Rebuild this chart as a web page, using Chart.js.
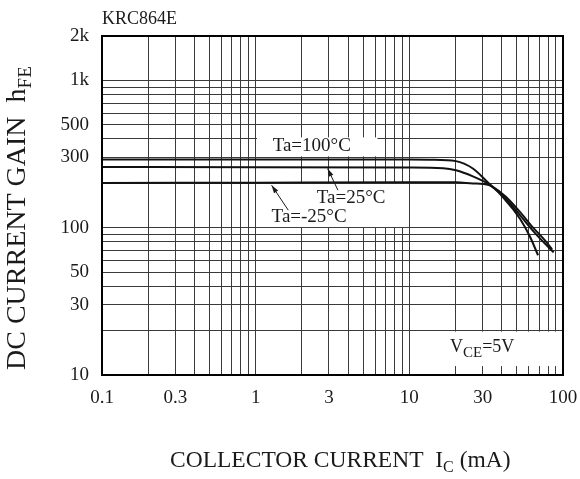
<!DOCTYPE html>
<html lang="en">
<head>
    <meta charset="UTF-8">
    <title>KRC864E hFE - IC</title>
    <script src="https://cdn.jsdelivr.net/npm/chart.js"></script>
    <style>
        body { margin: 0; background: #fff; }
        #wrap { width: 580px; height: 479px; }
    </style>
</head>
<body>
    <div id="wrap"><canvas id="hfeChart"></canvas></div>

    <script>
        // tick labels
        const xLabels = [0.1, 0.3, 1, 3, 10, 30, 100];
        const yLabels = [10, 30, 50, 100, 300, 500, 1000, 2000];

        // collector current (mA) / dc current gain for each temperature
        const ta100X = [0.1, 1, 10, 13.6, 20.1, 25.9, 33, 42.3, 52.5, 63.4, 76.3, 87];
        const ta100Y = [290, 290, 290, 289, 283, 252, 199.5, 158, 121.5, 96, 78, 68];
        const ta25X = [0.1, 1, 10, 16.6, 20.1, 25.9, 33, 42.3, 52.5, 63.4, 76.3, 85];
        const ta25Y = [258, 257, 256, 253, 245, 223, 197, 163, 128, 101, 82, 71];
        const taM25X = [0.1, 1, 10, 20.1, 25.9, 33, 42.3, 52.5, 61.1, 68.8];
        const taM25Y = [201, 202, 203, 203, 199.5, 194.5, 153.5, 115, 86.5, 65];

        const serif = '"Liberation Serif", "Times New Roman", serif';
        const ink = '#1a1a1a';

        function pts(xs, ys) {
            return xs.map((x, i) => ({ x: x, y: ys[i] }));
        }

        // 1..9 x 10^n grid lines
        function logGrid(from, to) {
            const out = [];
            for (let e = from; e < to; e++) {
                for (let m = 1; m <= 9; m++) out.push(Number((m * Math.pow(10, e)).toPrecision(3)));
            }
            return out;
        }

        function hasLabel(list, v) {
            return list.some(l => Math.abs(l - v) / l < 1e-6);
        }

        // text with subscripts: parts = [[text, size, dy], ...]
        function drawParts(ctx, x, y, parts) {
            let cx = x;
            parts.forEach(p => {
                ctx.font = p[1] + 'px ' + serif;
                ctx.fillText(p[0], cx, y + (p[2] || 0));
                cx += ctx.measureText(p[0]).width;
            });
        }

        function arrow(ctx, x1, y1, x2, y2) {
            ctx.beginPath();
            ctx.moveTo(x1, y1);
            ctx.lineTo(x2, y2);
            ctx.stroke();
            const a = Math.atan2(y2 - y1, x2 - x1);
            const len = 8, w = 2.5;
            ctx.beginPath();
            ctx.moveTo(x2, y2);
            ctx.lineTo(x2 - len * Math.cos(a) + w * Math.sin(a), y2 - len * Math.sin(a) - w * Math.cos(a));
            ctx.lineTo(x2 - len * Math.cos(a) - w * Math.sin(a), y2 - len * Math.sin(a) + w * Math.cos(a));
            ctx.closePath();
            ctx.fill();
        }

        const decor = {
            id: 'decor',
            beforeDatasetsDraw(chart) {
                const ctx = chart.ctx, xs = chart.scales.x, ys = chart.scales.y;
                // white label boxes over the grid
                const boxes = [[1.02, 6.2, 305, 410], [1.02, 9.8, 101, 198], [10.15, 100, 11.5, 19.7]];
                ctx.save();
                ctx.fillStyle = '#fff';
                boxes.forEach(b => {
                    const l = xs.getPixelForValue(b[0]), r = xs.getPixelForValue(b[1]);
                    const t = ys.getPixelForValue(b[3]), bt = ys.getPixelForValue(b[2]);
                    ctx.fillRect(l, t, r - l, bt - t);
                });
                ctx.restore();
            },
            afterDatasetsDraw(chart) {
                const ctx = chart.ctx, a = chart.chartArea, xs = chart.scales.x, ys = chart.scales.y;
                const px = v => xs.getPixelForValue(v), py = v => ys.getPixelForValue(v);
                ctx.save();
                ctx.strokeStyle = '#000';
                ctx.lineWidth = 2;
                ctx.strokeRect(a.left, a.top, a.right - a.left, a.bottom - a.top);

                ctx.fillStyle = ink;
                ctx.strokeStyle = ink;
                ctx.lineWidth = 1;
                ctx.textBaseline = 'middle';
                ctx.textAlign = 'left';
                ctx.font = '19px ' + serif;
                ctx.fillText('Ta=100\u00b0C', px(1.29), py(357));
                ctx.fillText('Ta=25\u00b0C', px(2.5), py(158.5));
                ctx.fillText('Ta=-25\u00b0C', px(1.27), py(118));

                arrow(ctx, px(3.43), py(179.6), px(2.94), py(252));
                arrow(ctx, px(1.63), py(131.4), px(1.27), py(194));

                ctx.textBaseline = 'alphabetic';
                drawParts(ctx, px(18.4), py(14.4), [['V', 18, 0], ['CE', 15, 5], ['=5V', 18, 0]]);
                ctx.restore();
            },
            afterDraw(chart) {
                const ctx = chart.ctx;
                ctx.save();
                ctx.fillStyle = ink;
                ctx.textBaseline = 'alphabetic';
                ctx.textAlign = 'left';
                drawParts(ctx, 102, 24, [['KRC864E', 18, 0]]);
                drawParts(ctx, 170, 467, [['COLLECTOR CURRENT  I', 23.5, 0], ['C', 16, 5], [' (mA)', 23.5, 0]]);
                ctx.translate(25, 370);
                ctx.rotate(-Math.PI / 2);
                drawParts(ctx, 0, 0, [['DC CURRENT GAIN  h', 28, 0], ['FE', 19, 6]]);
                ctx.restore();
            }
        };

        const lineStyle = {
            borderColor: '#111',
            borderWidth: 2,
            pointRadius: 0,
            fill: false,
            cubicInterpolationMode: 'monotone'
        };

        const config = {
            type: 'line',
            data: {
                datasets: [
                    Object.assign({ label: 'Ta=100°C', data: pts(ta100X, ta100Y) }, lineStyle),
                    Object.assign({ label: 'Ta=25°C', data: pts(ta25X, ta25Y) }, lineStyle),
                    Object.assign({ label: 'Ta=-25°C', data: pts(taM25X, taM25Y) }, lineStyle)
                ]
            },
            options: {
                responsive: true,
                maintainAspectRatio: false,
                animation: false,
                devicePixelRatio: 1,
                layout: { padding: { top: 36, right: 17, left: 0, bottom: 0 } },
                plugins: { legend: { display: false }, tooltip: { enabled: false } },
                scales: {
                    x: {
                        type: 'logarithmic',
                        min: 0.1,
                        max: 100,
                        afterBuildTicks: s => { s.ticks = logGrid(-1, 2).concat([100]).map(v => ({ value: v })); },
                        afterFit: s => { s.height = 104; s.paddingLeft = 0; s.paddingRight = 0; },
                        grid: { color: '#3a3a3a', lineWidth: 1, drawTicks: false },
                        border: { display: false },
                        ticks: {
                            autoSkip: false,
                            maxRotation: 0,
                            padding: 12,
                            color: ink,
                            font: { family: serif, size: 19 },
                            callback: v => hasLabel(xLabels, v) ? String(v) : ''
                        }
                    },
                    y: {
                        type: 'logarithmic',
                        min: 10,
                        max: 2000,
                        afterBuildTicks: s => { s.ticks = logGrid(1, 3).concat([1000, 2000]).map(v => ({ value: v })); },
                        afterFit: s => { s.width = 102; s.paddingTop = 0; s.paddingBottom = 0; },
                        grid: { color: '#3a3a3a', lineWidth: 1, drawTicks: false },
                        border: { display: false },
                        ticks: {
                            autoSkip: false,
                            padding: 13,
                            color: ink,
                            font: { family: serif, size: 19 },
                            callback: v => hasLabel(yLabels, v) ? (v >= 1000 ? (v / 1000) + 'k' : String(v)) : ''
                        }
                    }
                }
            },
            plugins: [decor]
        };

        document.addEventListener('DOMContentLoaded', function() {
            const ctx = document.getElementById('hfeChart').getContext('2d');
            new Chart(ctx, config);
        });
    </script>
</body>
</html>
